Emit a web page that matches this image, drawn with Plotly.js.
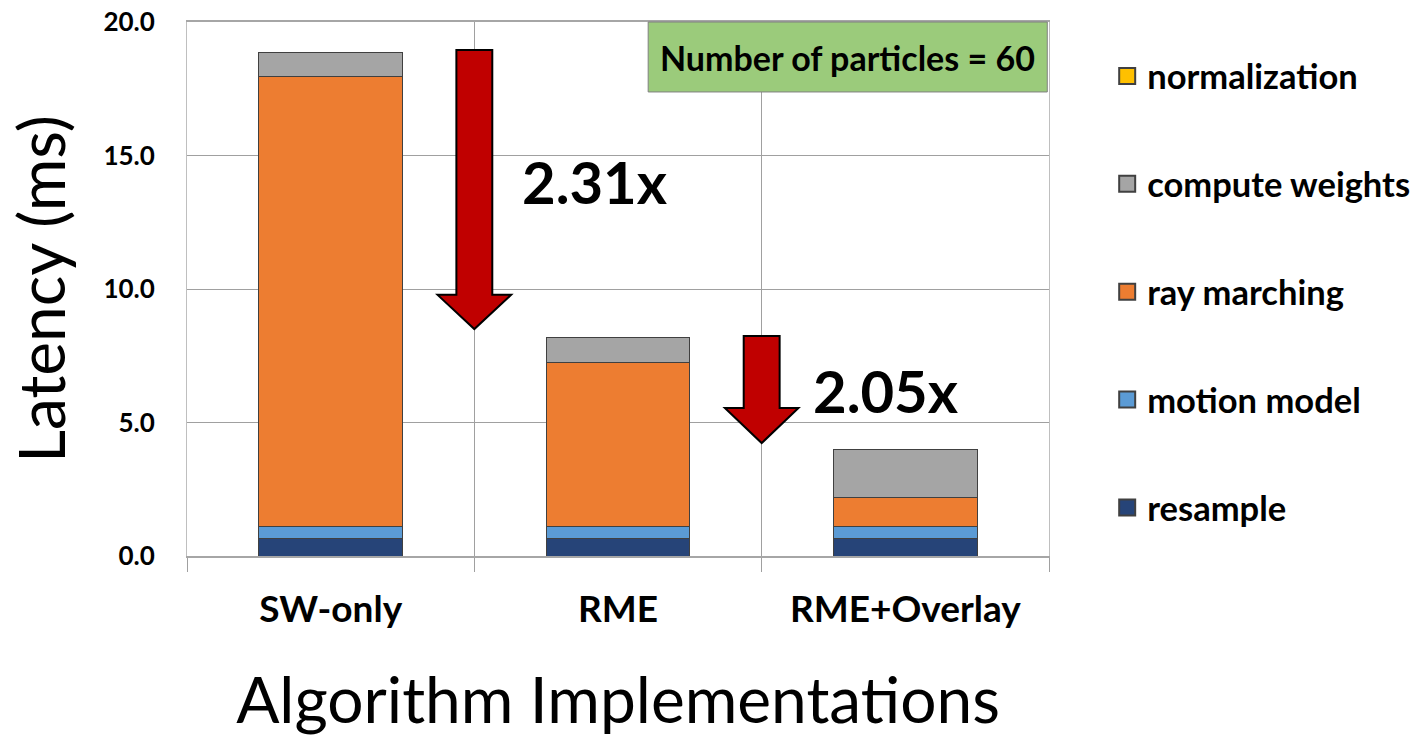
<!DOCTYPE html>
<html><head><meta charset="utf-8">
<script src="https://cdn.plot.ly/plotly-3.0.1.min.js"></script>
<style>html,body{margin:0;padding:0;background:#fff}#chart{width:1418px;height:737px}</style>
</head><body><div id="chart"></div>
<script>
const categories = ["SW-only", "RME", "RME+Overlay"];
const resample = [0.65, 0.65, 0.65];
const motionModel = [0.45, 0.45, 0.45];
const rayMarching = [16.85, 6.14, 1.08];
const computeWeights = [0.90, 0.93, 1.80];
const normalization = [0.01, 0.01, 0.01];
const seriesNames = ["resample", "motion model", "ray marching", "compute weights", "normalization"];
const seriesColors = ["#264478", "#5B9BD5", "#ED7D31", "#A5A5A5", "#FFC000"];
const yTicks = [0, 5, 10, 15, 20];
const speedups = ["2.31x", "2.05x"];
const noteText = "Number of particles = 60";

const FONT = "Lato, 'Open Sans', sans-serif";
const xs = categories.map((c, i) => i);
const series = [resample, motionModel, rayMarching, computeWeights, normalization];
const traces = series.map((vals, k) => ({
  type: "bar", x: xs, y: vals, name: seriesNames[k], showlegend: false,
  width: 0.5,
  marker: {color: seriesColors[k], line: {color: "#404040", width: 1}},
  hoverinfo: "name+y"
}));
// legend entries (top to bottom: normalization ... resample), drawn on the overlay axis
for (let k = series.length - 1; k >= 0; k--) {
  traces.push({
    type: "scatter", mode: "markers", x: [null], y: [null], xaxis: "x2",
    name: seriesNames[k], legendgroup: "g" + k, showlegend: true,
    marker: {symbol: "square", size: 20, color: seriesColors[k], line: {color: "#404040", width: 2}}
  });
}

function downArrow(xc, yTop, yHeadBase, yTip) {
  const sw = 0.0625, hw = 0.128;
  return {
    type: "path", xref: "x", yref: "y",
    path: `M ${xc - sw} ${yTop} L ${xc + sw} ${yTop} L ${xc + sw} ${yHeadBase} L ${xc + hw} ${yHeadBase} L ${xc} ${yTip} L ${xc - hw} ${yHeadBase} L ${xc - sw} ${yHeadBase} Z`,
    fillcolor: "#C00000", line: {color: "#000", width: 2}
  };
}

const layout = {
  width: 1418, height: 737,
  margin: {l: 187, r: 369, t: 22, b: 181, autoexpand: false},
  paper_bgcolor: "#fff", plot_bgcolor: "#fff",
  barmode: "stack",
  showlegend: true,
  legend: {
    x: 1.0675, xanchor: "left", y: 0.953, yanchor: "top",
    traceorder: "grouped", tracegroupgap: 60, maxheight: 1,
    font: {family: FONT, size: 34.5, color: "#000", weight: "bold"},
    itemwidth: 30, itemsizing: "trace"
  },
  xaxis: {
    range: [-0.5, 2.5], tickmode: "array", tickvals: xs, ticktext: categories,
    showgrid: false, zeroline: false, ticks: "", showline: false,
    tickfont: {family: FONT, size: 37, color: "#000", weight: "bold"},
    ticklabelstandoff: 28,
    title: {text: "Algorithm Implementations", font: {family: FONT, size: 64, color: "#000"}, standoff: 52}
  },
  xaxis2: {
    overlaying: "x", range: [-0.5, 2.5], tickmode: "array",
    tickvals: [-0.5, 0.5, 1.5, 2.5], showticklabels: false,
    showgrid: true, gridcolor: "#a0a0a0", gridwidth: 1,
    ticks: "outside", ticklen: 14, tickcolor: "#a0a0a0", tickwidth: 1,
    showline: true, linecolor: "#a6a6a6", linewidth: 2, mirror: true, zeroline: false
  },
  yaxis: {
    range: [0, 20], tickmode: "array", tickvals: yTicks, tickformat: ".1f",
    showgrid: true, gridcolor: "#a0a0a0", gridwidth: 1,
    showline: true, linecolor: "#bfbfbf", linewidth: 1, mirror: true, zeroline: false,
    ticks: "", ticklabelstandoff: 26,
    tickfont: {family: FONT, size: 26, color: "#000", weight: "bold"},
    title: {text: "Latency (ms)", font: {family: FONT, size: 64, color: "#000"}, standoff: 16}
  },
  shapes: [
    downArrow(0.5, 18.95, 9.78, 8.5),
    downArrow(1.5, 8.24, 5.54, 4.23),
    {type: "rect", xref: "paper", yref: "paper", x0: 0.535, x1: 0.998, y0: 0.869, y1: 1.0,
     fillcolor: "#9BCB7B", line: {color: "#808080", width: 1}}
  ],
  annotations: [
    {xref: "x", yref: "y", x: 0.66, y: 14.04, text: speedups[0], showarrow: false, xanchor: "left", yanchor: "middle",
     font: {family: FONT, size: 58, color: "#000", weight: "bold"}},
    {xref: "x", yref: "y", x: 1.67, y: 6.2, text: speedups[1], showarrow: false, xanchor: "left", yanchor: "middle",
     font: {family: FONT, size: 58, color: "#000", weight: "bold"}},
    {xref: "paper", yref: "paper", x: 0.766, y: 0.934, text: noteText, showarrow: false,
     xanchor: "center", yanchor: "middle",
     font: {family: FONT, size: 34, color: "#000", weight: "bold"}}
  ]
};

Plotly.newPlot("chart", traces, layout, {displayModeBar: false, staticPlot: true});
</script></body></html>
